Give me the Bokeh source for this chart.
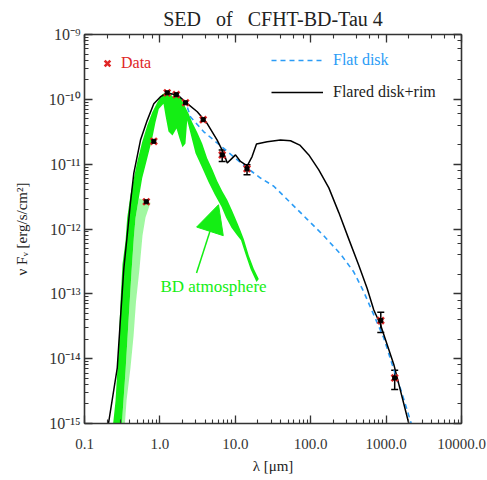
from bokeh.plotting import figure
from bokeh.models import (LogAxis, Range1d, ColumnDataSource, Whisker, TeeHead, Arrow,
                          NormalHead, Legend, LegendItem, CustomJSTickFormatter, Label)
from bokeh.embed import file_html
from bokeh.resources import INLINE

FONT = "Liberation Serif"
RED = "#e02626"
BLUE = "#2b9cf6"
GREEN = "#14ee14"
INK = "#222222"

# --- photometry (wavelength in micron, nu F_nu in erg/s/cm^2) ---
lam_obs = [0.66, 0.83, 1.25, 1.65, 2.19, 3.75, 6.7, 14.3, 850.0, 1300.0]
flux_obs = [2.63e-12, 2.25e-11, 1.26e-10, 1.18e-10, 8.85e-11, 4.86e-11,
            1.39e-11, 8.5e-12, 3.87e-14, 5.04e-15]

# error bars for the mid-IR and (sub)mm points
lam_err = [6.7, 14.3, 850.0, 1300.0]
flux_err_lo = [1.10e-11, 6.87e-12, 2.54e-14, 3.34e-15]
flux_err_hi = [1.65e-11, 9.76e-12, 5.19e-14, 6.60e-15]

# --- flared disk + inner rim model ---
lam_rim = [0.208, 0.272, 0.300, 0.332, 0.368, 0.407, 0.451, 0.553, 0.679, 0.830,
           1.02, 1.25, 1.69, 2.19, 3.13, 4.24, 5.75, 7.03, 7.82, 9.10,
           10.07, 11.7, 14.4, 16.7, 19.1, 26.5, 39.7, 54.0, 71.6, 94.4,
           128.0, 174.0, 236.0, 320.0, 435.0, 561.0, 687.0, 843.0, 1265.0, 2000.0]
flux_rim = [1.0e-15, 7.24e-15, 4.2e-14, 2.43e-13, 7.87e-13, 2.54e-12, 7.29e-12, 2.35e-11,
            4.74e-11, 8.53e-11, 1.10e-10, 1.24e-10, 1.18e-10, 9.06e-11, 6.44e-11, 4.23e-11,
            2.35e-11, 1.47e-11, 1.04e-11, 1.24e-11, 1.39e-11, 1.10e-11, 9.42e-12, 1.31e-11,
            2.04e-11, 2.22e-11, 2.35e-11, 2.30e-11, 1.97e-11, 1.39e-11, 8.18e-12, 4.31e-12,
            1.79e-12, 6.98e-13, 2.74e-13, 1.21e-13, 5.64e-14, 3.33e-14, 8.15e-15, 1.0e-15]

# --- flat disk model ---
lam_flat = [1.25, 1.69, 2.19, 2.55, 3.82, 7.03, 14.4, 21.6, 32.4, 54.0, 89.9,
            149.0, 248.0, 373.0, 506.0, 687.0, 933.0, 1205.0, 1637.0, 2153.0]
flux_flat = [1.24e-10, 1.18e-10, 9.06e-11, 5.35e-11, 3.16e-11, 1.75e-11, 8.69e-12,
             6.11e-12, 4.57e-12, 2.54e-12, 1.41e-12, 7.87e-13, 4.12e-13, 2.17e-13,
             1.07e-13, 4.73e-14, 2.08e-14, 8.15e-15, 2.84e-15, 1.0e-15]

# --- brown dwarf atmosphere spectrum: outline of the dense point cloud ---
lam_bd = [0.235, 0.258, 0.282, 0.300, 0.319, 0.350, 0.368, 0.407, 0.451, 0.500,
          0.582, 0.679, 0.790, 0.921, 1.073, 1.250,
          1.382, 1.456, 1.576, 1.781, 1.976, 2.185, 2.417, 2.682, 3.124, 3.639,
          4.240, 4.938, 5.753, 6.704, 7.809, 9.097, 10.60, 11.72,
          12.96, 15.10, 17.60, 20.50, 19.11, 15.91, 13.65, 11.90,
          10.37, 8.90, 7.53, 6.56, 5.38, 4.41, 3.56, 2.966,
          2.302, 2.185, 1.994, 1.819, 1.661, 1.469, 1.300, 1.187, 1.116,
          0.967, 0.874, 0.790, 0.679, 0.582, 0.525, 0.475, 0.451, 0.420, 0.383,
          0.350, 0.309]
flux_bd = [8e-16, 2.24e-15, 1.30e-14, 7.55e-14, 2.87e-13, 6.52e-13, 1.48e-12, 3.36e-12,
           6.05e-12, 1.08e-11, 2.19e-11, 3.94e-11, 6.29e-11, 8.94e-11, 1.20e-10, 1.30e-10,
           1.27e-10, 1.09e-10, 1.24e-10, 1.13e-10, 9.49e-11, 7.50e-11, 5.94e-11, 4.42e-11,
           3.11e-11, 2.09e-11, 1.23e-11, 8.39e-12, 5.50e-12, 3.87e-12, 2.82e-12, 1.92e-12,
           1.26e-12, 9.49e-13,
           6.99e-13, 3.90e-13, 2.43e-13, 1.69e-13, 1.52e-13, 2.41e-13, 4.08e-13, 6.68e-13,
           8.24e-13, 1.05e-12, 1.50e-12, 2.21e-12, 3.36e-12, 5.31e-12, 9.31e-12, 1.47e-11,
           4.70e-11, 2.09e-11, 1.82e-11, 2.49e-11, 3.54e-11, 2.77e-11, 3.19e-11, 5.60e-11,
           8.54e-11,
           7.09e-11, 4.42e-11, 2.47e-11, 1.22e-11, 6.05e-12, 2.99e-12, 1.48e-12, 7.34e-13,
           2.17e-13, 3.74e-14, 6.45e-15, 8e-16]

# sparse blue-side scatter of the same spectrum (outline)
lam_bd_sparse = [0.525, 0.750, 0.644, 0.588, 0.536, 0.482, 0.447, 0.407, 0.361, 0.339,
                 0.309, 0.350, 0.383, 0.420, 0.451, 0.475]
flux_bd_sparse = [2.99e-12, 2.54e-12, 1.50e-12, 7.96e-13, 2.41e-13, 7.55e-14, 2.21e-14,
                  7.16e-15, 2.24e-15, 8e-16, 8e-16, 6.45e-15, 3.74e-14, 2.17e-13,
                  7.34e-13, 1.48e-12]

# annotation anchor points (micron, flux)
bd_label_pos = (5.14, 1.28e-13)
bd_arrow_tail = (3.06, 2.09e-13)
bd_arrow_tip = (5.99, 2.37e-12)

p = figure(width=487, height=480, x_axis_type="log", y_axis_type="log",
           x_range=Range1d(0.1, 1e4), y_range=Range1d(1e-15, 1e-9),
           output_backend="svg", toolbar_location=None,
           min_border_left=84, min_border_right=26, min_border_top=30,
           min_border_bottom=57,
           title="SED \u00a0 of \u00a0 CFHT-BD-Tau 4")
p.title.align = "center"
p.title.text_font = FONT
p.title.text_font_size = "20px"
p.title.text_font_style = "normal"
p.title.text_color = INK
p.xgrid.visible = False
p.ygrid.visible = False
p.outline_line_color = None
p.background_fill_color = "white"

# spectra and models
p.patch(lam_bd_sparse, flux_bd_sparse, fill_color=GREEN, fill_alpha=0.4, line_color=None)
p.patch(lam_bd, flux_bd, fill_color=GREEN, line_color=None)
r_flat = p.line(lam_flat, flux_flat, line_color=BLUE, line_width=1.6, line_dash="5 4")
r_rim = p.line(lam_rim, flux_rim, line_color="black", line_width=1.5)

err_src = ColumnDataSource(dict(x=lam_err, lower=flux_err_lo, upper=flux_err_hi))
p.add_layout(Whisker(source=err_src, base="x", lower="lower", upper="upper",
                     line_color="black", line_width=1.5,
                     upper_head=TeeHead(size=7, line_color="black", line_width=1.5),
                     lower_head=TeeHead(size=7, line_color="black", line_width=1.5)))

r_x = p.scatter(lam_obs, flux_obs, marker="x", size=9, line_color=RED, line_width=2.6)
p.scatter(lam_obs, flux_obs, marker="square", size=4, fill_color="black", line_color="black")

# BD atmosphere annotation
p.add_layout(Arrow(x_start=bd_arrow_tail[0], y_start=bd_arrow_tail[1],
                   x_end=bd_arrow_tip[0], y_end=bd_arrow_tip[1],
                   line_color=GREEN, line_width=1.5,
                   end=NormalHead(size=28, fill_color=GREEN, line_color=GREEN)))
p.add_layout(Label(x=bd_label_pos[0], y=bd_label_pos[1], text="BD atmosphere",
                   text_font=FONT, text_font_size="17px", text_color=GREEN,
                   text_align="center", text_baseline="middle"))

# axes: ticks pointing inward on all four sides
x_fmt = CustomJSTickFormatter(code="return tick.toFixed(1);")
y_fmt = CustomJSTickFormatter(code="""
const sup = {'-': '\u207b', '0': '\u2070', '1': '\u00b9', '2': '\u00b2', '3': '\u00b3',
             '4': '\u2074', '5': '\u2075', '6': '\u2076', '7': '\u2077', '8': '\u2078', '9': '\u2079'};
const e = Math.round(Math.log10(tick));
return '10' + String(e).split('').map(c => sup[c]).join('');
""")
blank_fmt = CustomJSTickFormatter(code="return '';")


def style_axis(ax):
    ax.axis_line_width = 1.6
    ax.axis_line_color = "#333333"
    ax.major_tick_in = 8
    ax.major_tick_out = 0
    ax.minor_tick_in = 4
    ax.minor_tick_out = 0
    ax.major_tick_line_color = "#333333"
    ax.minor_tick_line_color = "#333333"
    ax.major_tick_line_width = 1.3
    ax.minor_tick_line_width = 1.1
    ax.major_label_text_font = FONT
    ax.major_label_text_font_size = "15px"
    ax.major_label_text_color = "#333333"
    ax.axis_label_text_font = FONT
    ax.axis_label_text_font_size = "15px"
    ax.axis_label_text_font_style = "normal"
    ax.axis_label_text_color = INK


xax = p.xaxis[0]
yax = p.yaxis[0]
style_axis(xax)
style_axis(yax)
xax.formatter = x_fmt
yax.formatter = y_fmt
yax.major_label_text_font_size = "16px"
xax.major_label_standoff = 15
yax.major_label_standoff = 4
xax.axis_label = "\u03bb [\u03bcm]"
yax.axis_label = "\u03bd F\u1d65 [erg/s/cm\u00b2]"
xax.axis_label_standoff = 6
yax.axis_label_standoff = 16

top_ax = LogAxis(formatter=blank_fmt, major_label_standoff=0)
right_ax = LogAxis(formatter=blank_fmt, major_label_standoff=0)
style_axis(top_ax)
style_axis(right_ax)
p.add_layout(top_ax, "above")
p.add_layout(right_ax, "right")

# legends
common = dict(border_line_color=None, background_fill_alpha=0, padding=0, margin=0,
              spacing=0, label_text_font=FONT, label_text_font_size="16px",
              label_height=20, glyph_height=20)
leg_data = Legend(items=[LegendItem(label="Data", renderers=[r_x])],
                  location=(12, 350), glyph_width=22, label_standoff=3,
                  label_text_color=RED, **common)
leg_flat = Legend(items=[LegendItem(label="Flat disk", renderers=[r_flat])],
                  location=(187, 353), glyph_width=52, label_standoff=10,
                  label_text_color=BLUE, **common)
leg_rim = Legend(items=[LegendItem(label="Flared disk+rim", renderers=[r_rim])],
                 location=(187, 321), glyph_width=52, label_standoff=10,
                 label_text_color=INK, **common)
for lg in (leg_data, leg_flat, leg_rim):
    p.add_layout(lg, "center")

open("out.html", "w").write(file_html(p, INLINE))
